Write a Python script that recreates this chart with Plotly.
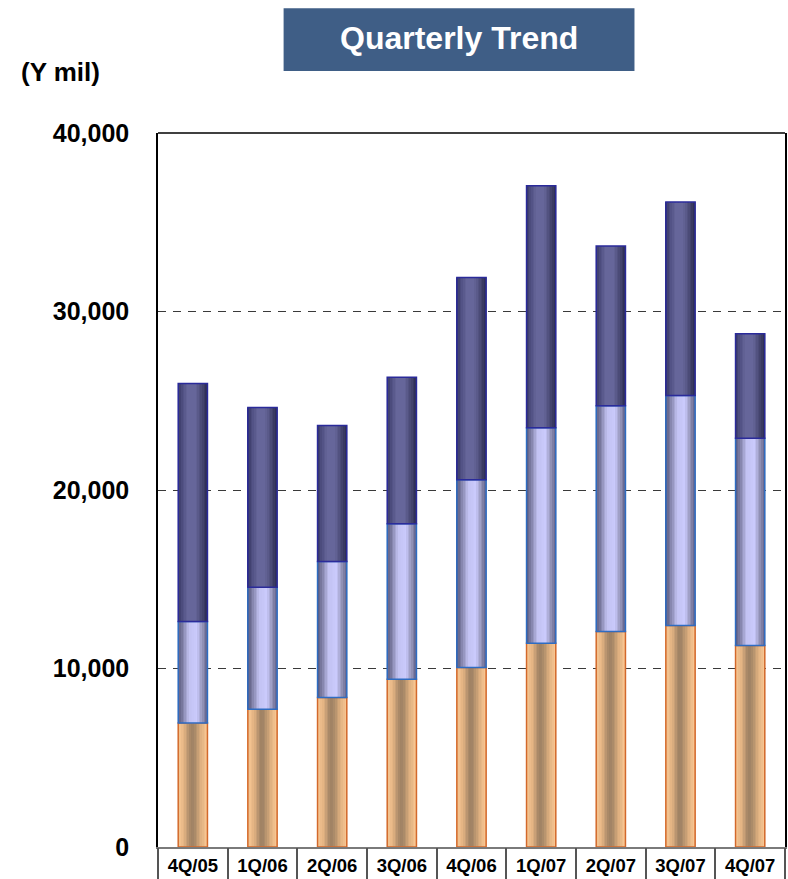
import plotly.graph_objects as go

# Quarterly figures (Y mil), three stacked components per quarter
quarters = ["4Q/05", "1Q/06", "2Q/06", "3Q/06", "4Q/06", "1Q/07", "2Q/07", "3Q/07", "4Q/07"]
lower = [6940, 7720, 8380, 9400, 10060, 11420, 12070, 12410, 11290]
middle = [5690, 6830, 7620, 8710, 10520, 12070, 12650, 12880, 11610]
upper = [13330, 10070, 7610, 8200, 11320, 13560, 8950, 10840, 5860]
y_ticks = [0, 10000, 20000, 30000, 40000]

FONT = "Liberation Sans, Arial, sans-serif"
BAR_W = 0.42
N_STRIPS = 18


def hex_to_rgb(h):
    h = h.lstrip("#")
    return tuple(int(h[i:i + 2], 16) for i in (0, 2, 4))


def shade(stops, t):
    """Linear interpolation across (position, hex) colour stops."""
    for (p0, c0), (p1, c1) in zip(stops, stops[1:]):
        if p0 <= t <= p1:
            f = (t - p0) / (p1 - p0) if p1 > p0 else 0
            a, b = hex_to_rgb(c0), hex_to_rgb(c1)
            r = [round(a[k] + (b[k] - a[k]) * f) for k in range(3)]
            return "rgb(%d,%d,%d)" % tuple(r)
    return stops[-1][1]


# Horizontal shading of each component (cylinder look)
segments = [
    dict(vals=lower, line="#d2692c",
         stops=[(0, "#fbcb97"), (0.22, "#e2b282"), (0.45, "#a08264"), (0.55, "#a38566"),
                (0.78, "#dcae7e"), (1, "#fbc894")]),
    dict(vals=middle, line="#2e6cc2",
         stops=[(0, "#55557a"), (0.15, "#7a7aa0"), (0.4, "#c2c2f2"), (0.65, "#cacafc"),
                (0.85, "#9494b8"), (1, "#62628a")]),
    dict(vals=upper, line="#2a2a9a",
         stops=[(0, "#34345e"), (0.15, "#4e4e80"), (0.35, "#66669a"), (0.6, "#66669a"),
                (0.85, "#45456f"), (1, "#2c2c52")]),
]

fig = go.Figure()

base = [0] * len(quarters)
for seg in segments:
    vals = seg["vals"]
    step = BAR_W / N_STRIPS
    for i in range(N_STRIPS):
        fig.add_trace(go.Bar(
            x=quarters, y=vals, base=base,
            width=step + 0.004, offset=-BAR_W / 2 + i * step,
            marker=dict(color=shade(seg["stops"], (i + 0.5) / N_STRIPS), line=dict(width=0)),
            showlegend=False, hoverinfo="skip",
        ))
    fig.add_trace(go.Bar(
        x=quarters, y=vals, base=base, width=BAR_W, offset=-BAR_W / 2,
        marker=dict(color="rgba(0,0,0,0)", line=dict(color=seg["line"], width=1.5)),
        showlegend=False, hoverinfo="skip",
    ))
    base = [b + v for b, v in zip(base, vals)]

# Invisible helper trace so the second x axis can carry the cell dividers
fig.add_trace(go.Scatter(x=[-0.5, 8.5], y=[0, 0], xaxis="x2", mode="markers",
                         marker=dict(opacity=0), showlegend=False, hoverinfo="skip"))

fig.update_layout(
    width=788, height=879,
    margin=dict(l=158, r=1, t=133, b=31),
    paper_bgcolor="white", plot_bgcolor="white",
    barmode="overlay",
    font=dict(family=FONT, color="black"),
    xaxis=dict(
        type="category", categoryorder="array", categoryarray=quarters,
        range=[-0.5, 8.5], showgrid=False, ticks="",
        tickfont=dict(size=18.5, family=FONT, weight="bold"),
        ticklabelstandoff=1,
        showline=True, linecolor="#7a7a7a", linewidth=2,
    ),
    xaxis2=dict(
        overlaying="x", anchor="y", side="bottom", range=[-0.5, 8.5],
        tickmode="array", tickvals=[i - 0.5 for i in range(len(quarters) + 1)],
        ticks="outside", ticklen=31, tickwidth=1.5, tickcolor="#555555",
        showticklabels=False, showgrid=False, zeroline=False, showline=False,
    ),
    yaxis=dict(
        range=[0, 40000], tickvals=y_ticks, tickformat=",d",
        tickfont=dict(size=25, family=FONT, weight="bold"),
        ticks="", ticklabelstandoff=22,
        showgrid=True, gridcolor="#3a3a3a", gridwidth=1, griddash="8px,7px",
        zeroline=False,
        showline=True, linecolor="black", linewidth=1.5, mirror=True,
    ),
    shapes=[
        dict(type="line", xref="paper", yref="paper", x0=0, x1=1, y0=1, y1=1,
             line=dict(color="black", width=1.5)),
        dict(type="rect", xref="paper", yref="paper",
             x0=(284 - 158) / 629, x1=(636 - 158) / 629,
             y0=(848 - 71) / 715, y1=(848 - 8) / 715,
             fillcolor="#3f5e86", line=dict(width=0), layer="above"),
    ],
    annotations=[
        dict(text="Quarterly Trend", xref="paper", yref="paper",
             x=(460 - 158) / 629, y=(848 - 38) / 715, xanchor="center", yanchor="middle",
             showarrow=False, font=dict(size=32, color="white", family=FONT, weight="bold")),
        dict(text="(Y mil)", xref="paper", yref="paper",
             x=(19 - 158) / 629, y=(848 - 72) / 715, xanchor="left", yanchor="middle",
             showarrow=False, font=dict(size=26, color="black", family=FONT, weight="bold")),
    ],
)

fig.write_html("out.html")
